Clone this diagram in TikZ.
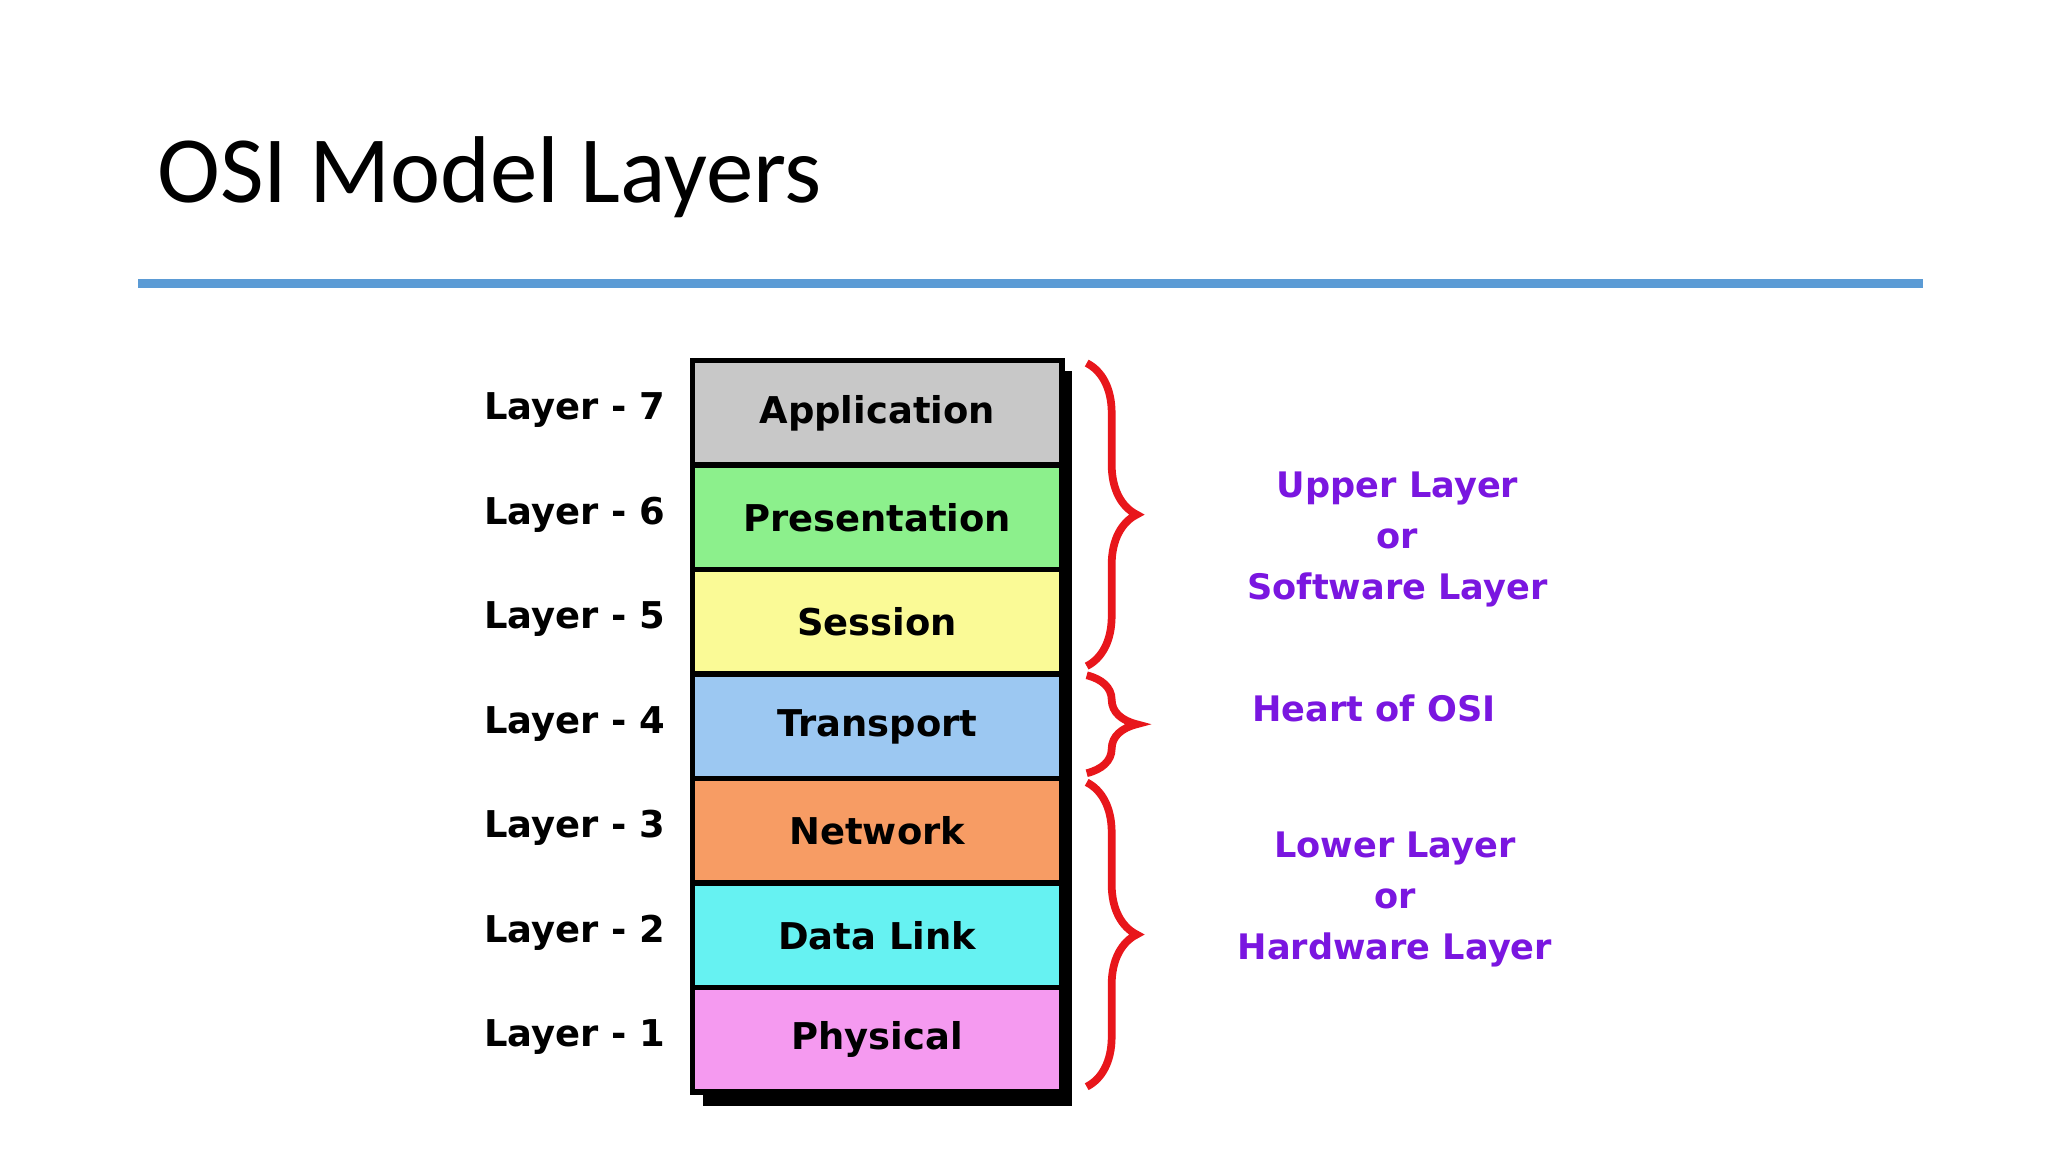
\documentclass[tikz,border=0pt]{standalone}
\usepackage{fontspec}
\setmainfont{DejaVu Sans}
\newfontfamily\titlefont{Carlito}
\usetikzlibrary{decorations.pathreplacing}
\definecolor{rulebl}{HTML}{5B9BD5}
\definecolor{purp}{HTML}{7A16E0}
\definecolor{bracered}{HTML}{E8161B}
\definecolor{cApp}{HTML}{C8C8C8}
\definecolor{cPre}{HTML}{8CF08C}
\definecolor{cSes}{HTML}{FAFA96}
\definecolor{cTra}{HTML}{9CC8F2}
\definecolor{cNet}{HTML}{F79C64}
\definecolor{cDat}{HTML}{66F2F2}
\definecolor{cPhy}{HTML}{F59AF0}
\begin{document}
\begin{tikzpicture}[x=0.013061cm,y=-0.013061cm,
  layer/.style={draw=black, line width=1.6pt, minimum width=283*0.013061cm,
    minimum height=80*0.013061cm, font=\fontsize{10.5}{12}\selectfont\bfseries, anchor=north west, inner sep=0pt},
  lab/.style={anchor=mid east, font=\fontsize{10.5}{12}\selectfont\bfseries, inner sep=0pt},
  side/.style={text=purp, font=\fontsize{10}{14.5}\selectfont\bfseries, align=center},
  br/.style={draw=bracered, line width=2.2pt, decorate, decoration={brace, amplitude=0.5cm}}]
\useasboundingbox (0,0) rectangle (1568,882);
% title and rule
\node[anchor=base west, inner sep=0pt, font=\titlefont\fontsize{27}{32}\selectfont] (title) at (120,155) {OSI Model Layers};
\draw[rulebl, line width=2.6pt] (106,217) -- (1472,217);
% shadow
\fill[black] (538,284) rectangle (821,847);
% layers
\foreach \n/\t/\c [count=\i from 0] in {7/Application/cApp, 6/Presentation/cPre, 5/Session/cSes, 4/Transport/cTra, 3/Network/cNet, 2/Data Link/cDat, 1/Physical/cPhy}
{
  \node[layer, fill=\c] (L\n) at (528,274+80*\i) {\t};
  \node[lab] (N\n) at (510,314+80*\i) {Layer - \n};
}
% braces
\coordinate (u1) at (832,278);
\coordinate (u2) at (832,510);
\coordinate (h1) at (832,517);
\coordinate (h2) at (832,592);
\coordinate (d1) at (832,599);
\coordinate (d2) at (832,832);
\draw[br] (u1) -- (u2);
\draw[br] (h1) -- (h2);
\draw[br] (d1) -- (d2);
% side texts
\node[side] (up) at (1070,413) {Upper Layer\\or\\Software Layer};
\node[side] (heart) at (1052,542) {Heart of OSI};
\node[side] (low) at (1068,689) {Lower Layer\\or\\Hardware Layer};
\end{tikzpicture}
\end{document}
